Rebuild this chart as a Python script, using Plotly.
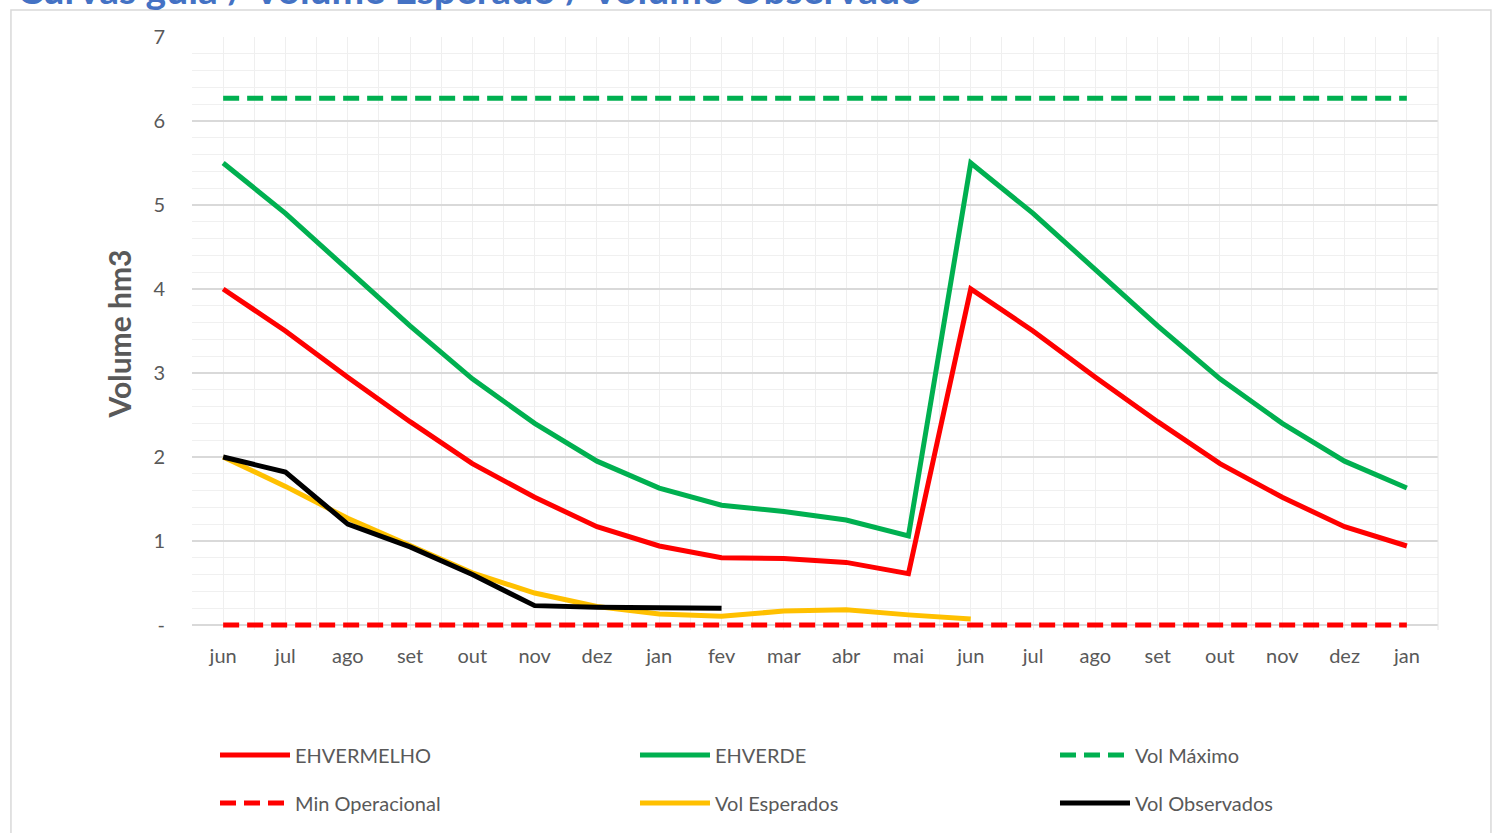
import plotly.graph_objects as go

months = ["jun", "jul", "ago", "set", "out", "nov", "dez", "jan", "fev", "mar",
          "abr", "mai", "jun", "jul", "ago", "set", "out", "nov", "dez", "jan"]
ehvermelho = [4.0, 3.5, 2.95, 2.42, 1.92, 1.52, 1.17, 0.94, 0.80, 0.79,
              0.745, 0.61, 4.0, 3.5, 2.95, 2.42, 1.92, 1.52, 1.17, 0.94]
ehverde = [5.5, 4.9, 4.23, 3.56, 2.93, 2.40, 1.95, 1.63, 1.425, 1.35,
           1.25, 1.06, 5.5, 4.9, 4.23, 3.56, 2.93, 2.40, 1.95, 1.63]
vol_maximo = [6.27] * 20
min_operacional = [0.0] * 20
vol_esperados = [2.0, 1.65, 1.27, 0.95, 0.62, 0.38, 0.22, 0.13, 0.105, 0.165,
                 0.18, 0.12, 0.07]
vol_observados = [2.0, 1.82, 1.2, 0.93, 0.6, 0.23, 0.21, 0.20, 0.20]
y_ticks = [0, 1, 2, 3, 4, 5, 6, 7]
y_ticktext = ["-", "1", "2", "3", "4", "5", "6", "7"]

title_text = "Curvas guia / Volume Esperado / Volume Observado"

x_idx = list(range(len(months)))
FONT = "Lato"
GREY = "#595959"

fig = go.Figure()

# legend slots: 3 columns x 2 rows
col_x = [0.1441, 0.4256, 0.7071]
row_y = [0.0936, 0.0360]
slots = [(c, r) for r in range(2) for c in range(3)]

legend_layout = {}

def add(i, name, y, color, dash=None):
    key = "legend" if i == 0 else f"legend{i + 1}"
    fig.add_trace(go.Scatter(
        x=x_idx[:len(y)], y=y, name=name, mode="lines",
        line=dict(color=color, width=5, dash=dash),
        legend=key,
    ))
    c, r = slots[i]
    legend_layout[key] = dict(
        orientation="h", itemwidth=70,
        font=dict(family=FONT, size=20, color=GREY),
        xanchor="left", yanchor="middle", xref="container", yref="container",
        x=col_x[c], y=row_y[r], bgcolor="rgba(0,0,0,0)",
    )

add(0, "EHVERMELHO", ehvermelho, "#FF0000")
add(1, "EHVERDE", ehverde, "#00B050")
add(2, "Vol Máximo", vol_maximo, "#00B050", dash="16px,8px")
add(3, "Min Operacional", min_operacional, "#FF0000", dash="16px,8px")
add(4, "Vol Esperados", vol_esperados, "#FFC000")
add(5, "Vol Observados", vol_observados, "#000000")

Y_BOTTOM = -0.06  # small pad so the zero-level dashed line is not clipped

fig.update_layout(
    width=1492, height=833,
    margin=dict(l=192, r=54, t=37, b=203, autoexpand=False),
    paper_bgcolor="white", plot_bgcolor="white",
    font=dict(family=FONT, size=20, color=GREY),
    xaxis=dict(
        range=[-0.5, len(months) - 0.5], automargin=False,
        tickmode="array", tickvals=x_idx, ticktext=months,
        showgrid=True, gridcolor="#efefef", gridwidth=1,
        minor=dict(tickmode="linear", tick0=-0.5, dtick=1, showgrid=True,
                   gridcolor="#efefef", gridwidth=1, ticks=""),
        ticks="outside", ticklen=8, tickcolor="rgba(0,0,0,0)",
        showline=False, zeroline=False,
        tickfont=dict(family=FONT, size=20, color=GREY),
    ),
    yaxis=dict(
        range=[Y_BOTTOM, 7], automargin=False,
        tickmode="array", tickvals=y_ticks, ticktext=y_ticktext,
        showgrid=True, gridcolor="#d9d9d9", gridwidth=1.5,
        minor=dict(tickmode="linear", tick0=0, dtick=0.2, showgrid=True,
                   gridcolor="#f0f0f0", gridwidth=1, ticks=""),
        ticks="outside", ticklen=22, tickcolor="rgba(0,0,0,0)",
        zeroline=True, zerolinecolor="#d9d9d9", zerolinewidth=1.5,
        tickfont=dict(family=FONT, size=20, color=GREY),
        title=dict(text="<b>Volume hm3</b>", font=dict(family=FONT, size=30, color=GREY),
                   standoff=12),
    ),
    showlegend=True,
    **legend_layout,
)

# right border of plot area
fig.add_shape(type="line", xref="paper", yref="paper", x0=1, x1=1, y0=0, y1=1,
              line=dict(color="#e6e6e6", width=1))
# chart area border
fig.add_shape(type="rect", xref="paper", yref="paper",
              x0=-0.1453, x1=1.0425, y0=-0.36, y1=1.0455,
              line=dict(color="#d9d9d9", width=1.5), layer="below")

fig.add_annotation(text="<b>" + title_text + "</b>", xref="paper", yref="paper",
                   x=-0.1421, y=1.0388, xanchor="left", yanchor="bottom", showarrow=False,
                   font=dict(family=FONT, size=39, color="#4472C4"))

fig.write_html("out.html", config={"displayModeBar": False},
               post_script="document.body.style.margin='0';")
